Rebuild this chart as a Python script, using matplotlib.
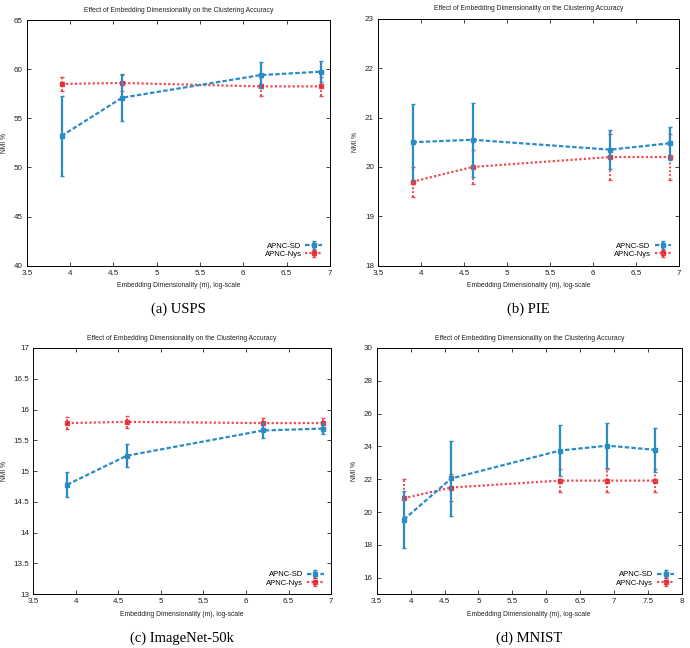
import matplotlib
matplotlib.use("Agg")
import matplotlib.pyplot as plt

plt.rcParams['font.family'] = ['Liberation Sans', 'DejaVu Sans']

# ---- data ----
x4 = [3.9, 4.6, 6.2, 6.9]
x5 = [3.9, 4.6, 6.2, 6.9, 7.6]

usps_sd = [53.2, 57.1, 59.4, 59.75]
usps_sd_err = [4.05, 2.4, 1.3, 1.05]
usps_nys = [58.5, 58.6, 58.25, 58.25]
usps_nys_err = [0.7, 0.8, 0.95, 0.95]

pie_sd = [20.5, 20.55, 20.35, 20.48]
pie_sd_err = [0.77, 0.75, 0.4, 0.33]
pie_nys = [19.7, 20.0, 20.2, 20.2]
pie_nys_err = [0.3, 0.35, 0.46, 0.46]

img_sd = [14.78, 15.25, 15.66, 15.69]
img_sd_err = [0.2, 0.19, 0.12, 0.09]
img_nys = [15.78, 15.8, 15.78, 15.78]
img_nys_err = [0.1, 0.1, 0.09, 0.09]

mn_sd = [19.55, 22.05, 23.75, 24.05, 23.8]
mn_sd_err = [1.75, 2.3, 1.55, 1.38, 1.35]
mn_nys = [20.85, 21.5, 21.92, 21.92, 21.92]
mn_nys_err = [1.15, 0.82, 0.68, 0.68, 0.68]

panels = [
    dict(x=x4, sd=usps_sd, sde=usps_sd_err, ny=usps_nys, nye=usps_nys_err,
         ylim=(40, 65), yticks=[40, 45, 50, 55, 60, 65], ytl=['40', '45', '50', '55', '60', '65'],
         xlim=(3.5, 7), xticks=[3.5, 4, 4.5, 5, 5.5, 6, 6.5, 7],
         caption='(a) USPS', pos=[0.039, 0.590, 0.439, 0.379]),
    dict(x=x4, sd=pie_sd, sde=pie_sd_err, ny=pie_nys, nye=pie_nys_err,
         ylim=(18, 23), yticks=[18, 19, 20, 21, 22, 23], ytl=['18', '19', '20', '21', '22', '23'],
         xlim=(3.5, 7), xticks=[3.5, 4, 4.5, 5, 5.5, 6, 6.5, 7],
         caption='(b) PIE', pos=[0.548, 0.590, 0.436, 0.381]),
    dict(x=x4, sd=img_sd, sde=img_sd_err, ny=img_nys, nye=img_nys_err,
         ylim=(13, 17), yticks=[13, 13.5, 14, 14.5, 15, 15.5, 16, 16.5, 17],
         ytl=['13', '13.5', '14', '14.5', '15', '15.5', '16', '16.5', '17'],
         xlim=(3.5, 7), xticks=[3.5, 4, 4.5, 5, 5.5, 6, 6.5, 7],
         caption='(c) ImageNet-50k', pos=[0.048, 0.083, 0.432, 0.380]),
    dict(x=x5, sd=mn_sd, sde=mn_sd_err, ny=mn_nys, nye=mn_nys_err,
         ylim=(15, 30), yticks=[16, 18, 20, 22, 24, 26, 28, 30],
         ytl=['16', '18', '20', '22', '24', '26', '28', '30'],
         xlim=(3.5, 8), xticks=[3.5, 4, 4.5, 5, 5.5, 6, 6.5, 7, 7.5, 8],
         caption='(d) MNIST', pos=[0.546, 0.083, 0.442, 0.380]),
]

blue = '#2b8cc4'
red = '#e8202a'

fig = plt.figure(figsize=(6.9, 6.48), dpi=100)

for p in panels:
    ax = fig.add_axes(p['pos'])
    nb = ax.errorbar(p['x'], p['ny'], yerr=p['nye'], color=red, linestyle=(0, (1, 1)),
                     linewidth=1.6, marker='s', markersize=3.5, capsize=1.5,
                     elinewidth=1.4, alpha=0.8, label='APNC-Nys', zorder=2)
    for lc in nb[2]:
        lc.set_linestyle((0, (1, 1)))
    ax.errorbar(p['x'], p['sd'], yerr=p['sde'], color=blue, linestyle=(0, (2, 1)),
                linewidth=1.6, marker='s', markersize=3.5, capsize=1.5,
                elinewidth=1.6, label='APNC-SD', zorder=3)
    ax.set_xlim(*p['xlim'])
    ax.set_ylim(*p['ylim'])
    ax.set_xticks(p['xticks'])
    ax.set_xticklabels([('%g' % v) for v in p['xticks']])
    ax.set_yticks(p['yticks'])
    ax.set_yticklabels(p['ytl'])
    ax.tick_params(direction='in', top=True, right=True, labelsize=5.8,
                   length=3, width=0.6, pad=3, colors='#222222')
    for s in ax.spines.values():
        s.set_linewidth(0.7)
    ax.set_title('Effect of Embedding Dimensionality on the Clustering Accuracy',
                 fontsize=4.9, pad=6, color='#222222')
    ax.set_xlabel('Embedding Dimensionality (m), log-scale', fontsize=4.9,
                  labelpad=4, color='#222222')
    ax.set_ylabel('NMI %', fontsize=4.9, labelpad=4, color='#222222')
    h, l = ax.get_legend_handles_labels()
    ax.legend(h[::-1], l[::-1], loc='lower right', frameon=False,
              fontsize=5.5, markerfirst=False, handlelength=2.2,
              handletextpad=0.5, labelspacing=0.1, borderaxespad=0.6)
    bb = p['pos']
    fig.text(bb[0] + bb[2] / 2, bb[1] - 0.068, p['caption'], ha='center',
             va='center', fontsize=10.5, family=['Liberation Serif', 'DejaVu Serif'])

fig.savefig('out.png', dpi=100)
